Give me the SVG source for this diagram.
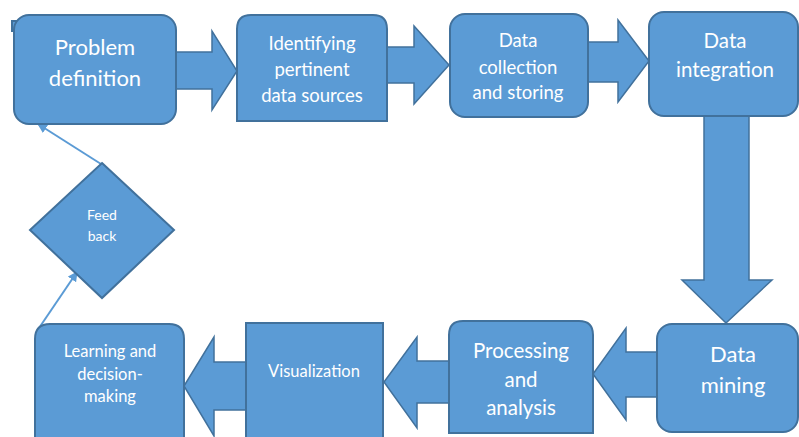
<svg xmlns="http://www.w3.org/2000/svg" width="799" height="437" viewBox="0 0 799 437">
<defs>
<style>
.box{fill:#5b9bd5;stroke:#41719c;stroke-width:2}
.arr{fill:#5b9bd5;stroke:#41719c;stroke-width:1.5;stroke-linejoin:miter}
.t{fill:#ffffff;font-family:Lato,"Open Sans","Liberation Sans",sans-serif;text-anchor:middle}
.ln{stroke:#5b9bd5;stroke-width:2;fill:none}
</style>
<marker id="ah" viewBox="0 0 10 10" refX="9" refY="5" markerWidth="5" markerHeight="5" orient="auto" markerUnits="strokeWidth">
<path d="M0,0 L10,5 L0,10 Z" fill="#5b9bd5"/>
</marker>
</defs>
<rect width="799" height="437" fill="#ffffff"/>
<g id="connectors">
<polygon class="arr" points="176,52 212,52 212,31 237,71 212,110 212,89 176,89"/>
<polygon class="arr" points="387,47 414,47 414,26 449,65 414,104 414,83 387,83"/>
<polygon class="arr" points="588,42 618,42 618,20 649,61 618,102 618,82 588,82"/>
<polygon class="arr" points="704,116 749,116 749,280 772,280 726,323 682,280 704,280"/>
<polygon class="arr" points="657,352 626,352 626,328 593,374 626,420 626,397 657,397"/>
<polygon class="arr" points="449,361 417,361 417,337 384,382 417,428 417,403 449,403"/>
<polygon class="arr" points="246,362 214,362 214,337 184,386 214,436 214,410 246,410"/>
<line class="ln" x1="101" y1="164" x2="38" y2="124" marker-end="url(#ah)"/>
<line class="ln" x1="37" y1="331" x2="77" y2="272" marker-end="url(#ah)"/>
</g>
<g id="problem-definition">
<rect class="box" x="12" y="21" width="10" height="10"/>
<rect class="box" x="14" y="15" width="162" height="109" rx="15"/>
<text class="t" font-size="22" x="95" y="55">Problem</text>
<text class="t" font-size="22" x="95" y="86">definition</text>
</g>
<g id="identifying">
<path class="box" d="M237,121 V29 Q237,15 251,15 H373 Q387,15 387,29 V121 Z"/>
<text class="t" font-size="18.5" x="312" y="50">Identifying</text>
<text class="t" font-size="18.5" x="312" y="76">pertinent</text>
<text class="t" font-size="18.5" x="312" y="102">data sources</text>
</g>
<g id="data-collection">
<rect class="box" x="450" y="14" width="138" height="103" rx="15"/>
<text class="t" font-size="18.5" x="518" y="47">Data</text>
<text class="t" font-size="18.5" x="518" y="74">collection</text>
<text class="t" font-size="18.5" x="518" y="99">and storing</text>
</g>
<g id="data-integration">
<rect class="box" x="649" y="12" width="149" height="104" rx="15"/>
<text class="t" font-size="20.5" x="725" y="48">Data</text>
<text class="t" font-size="20.5" x="725" y="77">integration</text>
</g>
<g id="data-mining">
<rect class="box" x="657" y="324" width="141" height="108" rx="15"/>
<text class="t" font-size="22" x="733" y="362">Data</text>
<text class="t" font-size="22" x="733" y="393">mining</text>
</g>
<g id="processing">
<path class="box" d="M449,433 V335 Q449,321 463,321 H579 Q593,321 593,335 V433 Z"/>
<text class="t" font-size="20.5" x="521" y="358">Processing</text>
<text class="t" font-size="20.5" x="521" y="387">and</text>
<text class="t" font-size="20.5" x="521" y="415">analysis</text>
</g>
<g id="visualization">
<rect class="box" x="246" y="323" width="137" height="125"/>
<text class="t" font-size="16.5" x="314" y="377">Visualization</text>
</g>
<g id="learning">
<path class="box" d="M35,448 V339 Q35,324 50,324 H169 Q184,324 184,339 V448 Z"/>
<text class="t" font-size="16.5" x="110" y="357">Learning and</text>
<text class="t" font-size="16.5" x="110" y="380">decision-</text>
<text class="t" font-size="16.5" x="110" y="402">making</text>
</g>
<g id="feedback">
<polygon class="box" points="102,163 174,230 102,298 30,230"/>
<text class="t" font-size="14" x="102" y="220">Feed</text>
<text class="t" font-size="14" x="102" y="241">back</text>
</g>
</svg>
